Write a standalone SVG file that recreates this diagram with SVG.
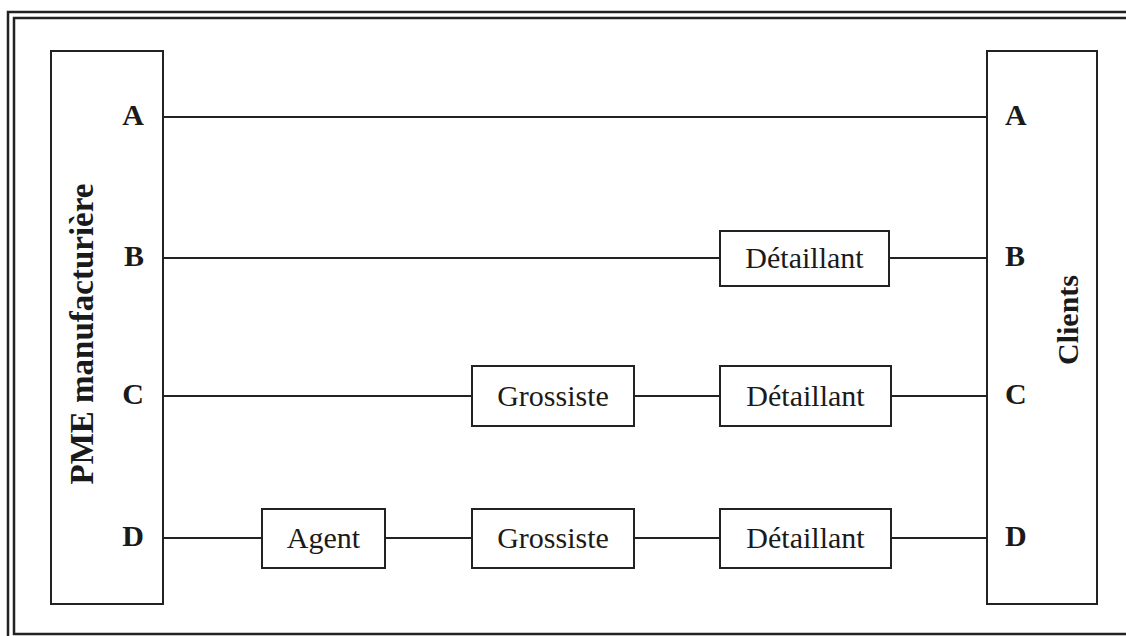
<svg xmlns="http://www.w3.org/2000/svg" width="1126" height="636" viewBox="0 0 1126 636">
  <style>
    .frame { fill: none; stroke: #222; }
    .box { fill: #fff; stroke: #222; stroke-width: 2; }
    .link { stroke: #222; stroke-width: 2; fill: none; }
    .lbl { font-family: "Liberation Serif", "Times New Roman", serif; font-size: 30px; fill: #1a1a1a; }
    .key { font-family: "Liberation Serif", "Times New Roman", serif; font-size: 30px; font-weight: bold; fill: #1a1a1a; }
    .side { font-family: "Liberation Serif", "Times New Roman", serif; font-weight: bold; fill: #1a1a1a; }
  </style>
  <rect width="1126" height="636" fill="#fff"/>
  <!-- double frame -->
  <path class="frame" stroke-width="2.5" d="M1130 12 H8 V636"/>
  <path class="frame" stroke-width="2.5" d="M1130 18 H14 V634 H1130"/>

  <!-- connectors -->
  <g id="connectors">
    <line class="link" x1="163" y1="117" x2="987" y2="117"/>
    <line class="link" x1="163" y1="258" x2="720" y2="258"/>
    <line class="link" x1="889" y1="258" x2="987" y2="258"/>
    <line class="link" x1="163" y1="396" x2="472" y2="396"/>
    <line class="link" x1="634" y1="396" x2="720" y2="396"/>
    <line class="link" x1="891" y1="396" x2="987" y2="396"/>
    <line class="link" x1="163" y1="538" x2="262" y2="538"/>
    <line class="link" x1="385" y1="538" x2="472" y2="538"/>
    <line class="link" x1="634" y1="538" x2="720" y2="538"/>
    <line class="link" x1="891" y1="538" x2="987" y2="538"/>
  </g>

  <g id="pme">
    <rect class="box" x="51" y="51" width="112" height="553"/>
    <text class="side" font-size="33" transform="translate(93 334) rotate(-90)" text-anchor="middle">PME manufacturière</text>
    <text class="key" x="144" y="125" text-anchor="end">A</text>
    <text class="key" x="144" y="266" text-anchor="end">B</text>
    <text class="key" x="144" y="404" text-anchor="end">C</text>
    <text class="key" x="144" y="546" text-anchor="end">D</text>
  </g>

  <g id="clients">
    <rect class="box" x="987" y="51" width="110" height="553"/>
    <text class="side" font-size="30" transform="translate(1078 320) rotate(-90)" text-anchor="middle">Clients</text>
    <text class="key" x="1005" y="125">A</text>
    <text class="key" x="1005" y="266">B</text>
    <text class="key" x="1005" y="404">C</text>
    <text class="key" x="1005" y="546">D</text>
  </g>

  <g id="detaillant-b">
    <rect class="box" x="720" y="231" width="169" height="55"/>
    <text class="lbl" x="804.5" y="268" text-anchor="middle">Détaillant</text>
  </g>
  <g id="grossiste-c">
    <rect class="box" x="472" y="366" width="162" height="60"/>
    <text class="lbl" x="553" y="406" text-anchor="middle">Grossiste</text>
  </g>
  <g id="detaillant-c">
    <rect class="box" x="720" y="366" width="171" height="60"/>
    <text class="lbl" x="805.5" y="406" text-anchor="middle">Détaillant</text>
  </g>
  <g id="agent-d">
    <rect class="box" x="262" y="509" width="123" height="59"/>
    <text class="lbl" x="323.5" y="548" text-anchor="middle">Agent</text>
  </g>
  <g id="grossiste-d">
    <rect class="box" x="472" y="509" width="162" height="59"/>
    <text class="lbl" x="553" y="548" text-anchor="middle">Grossiste</text>
  </g>
  <g id="detaillant-d">
    <rect class="box" x="720" y="509" width="171" height="59"/>
    <text class="lbl" x="805.5" y="548" text-anchor="middle">Détaillant</text>
  </g>
</svg>
